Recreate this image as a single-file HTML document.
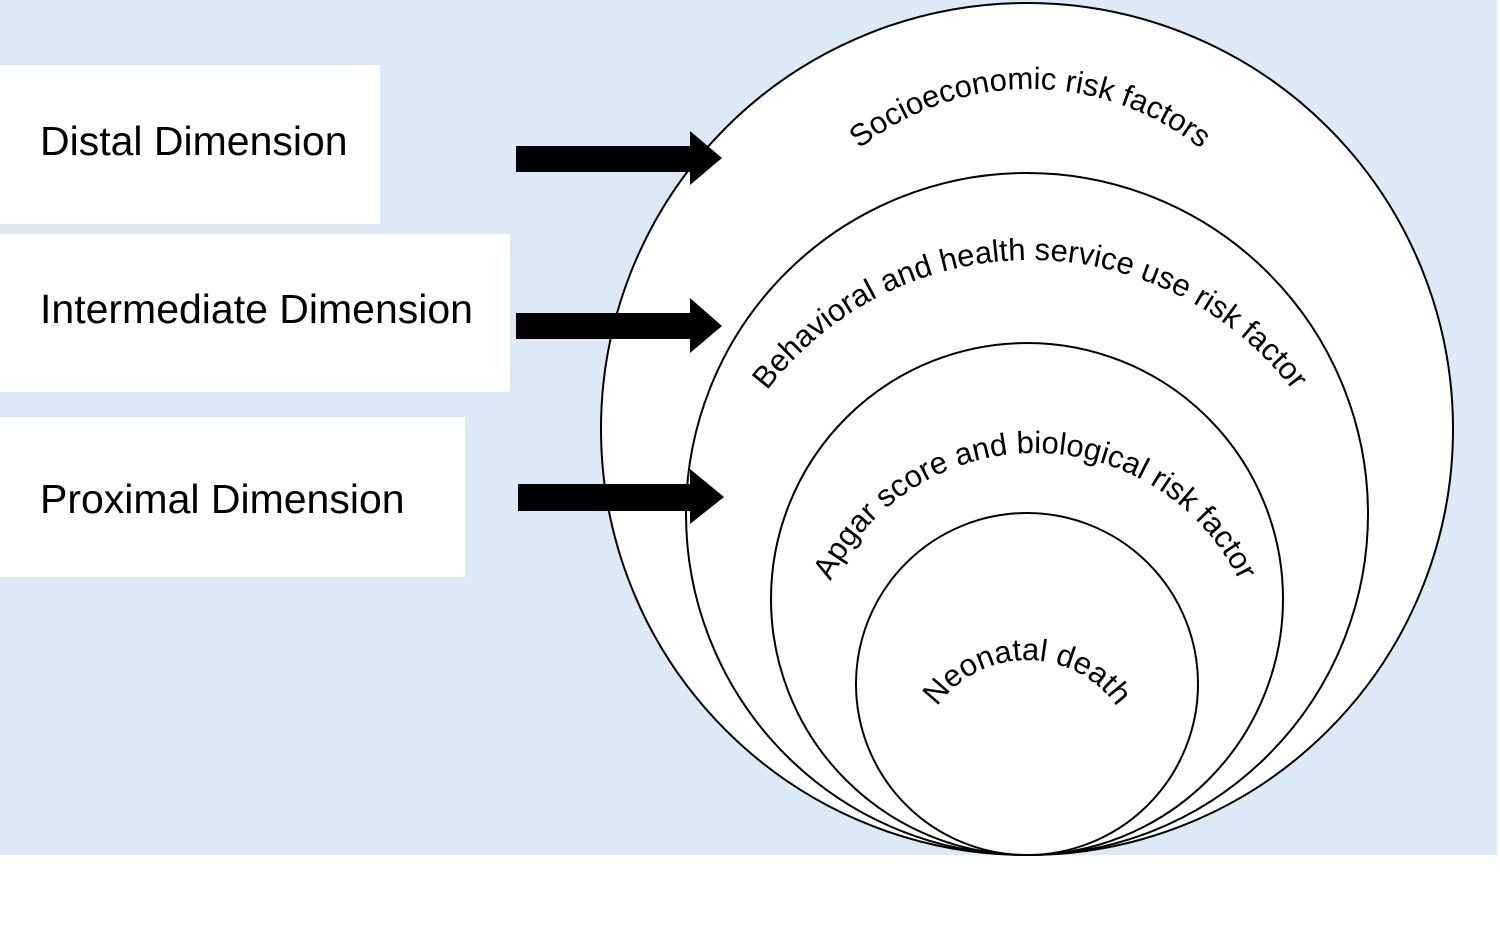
<!DOCTYPE html>
<html><head><meta charset="utf-8"><style>
html,body{margin:0;padding:0;background:#fff;}
body{width:1500px;height:937px;position:relative;overflow:hidden;font-family:"Liberation Sans",Arial,sans-serif;}
.bg{position:absolute;left:0;top:0;width:1497px;height:855px;background:#dbeaf6;}
.box{position:absolute;left:0;background:#fff;font-size:41px;color:#000;}
.box span{position:absolute;left:40px;}
svg{position:absolute;left:0;top:0;}
</style></head><body>
<div class="bg"></div>
<div class="box" style="top:65px;width:380px;height:159px;"><span style="top:53px">Distal Dimension</span></div>
<div class="box" style="top:234px;width:510px;height:158px;"><span style="top:52px">Intermediate Dimension</span></div>
<div class="box" style="top:417px;width:465px;height:160px;"><span style="top:59px">Proximal Dimension</span></div>
<svg width="1500" height="937" viewBox="0 0 1500 937">
<g fill="#fff" stroke="#000" stroke-width="2">
<circle cx="1027" cy="429" r="426"/>
<circle cx="1027" cy="514" r="341"/>
<circle cx="1027" cy="599" r="256"/>
<circle cx="1027" cy="684" r="171"/>
</g>
<g fill="#000">
<polygon points="516,146 690,146 690,131 722,158 690,185 690,172 516,172"/>
<polygon points="516,313 690,313 690,298 722,326 690,353 690,339 516,339"/>
<polygon points="518,484 690,484 690,469 724,497 690,524 690,511 518,511"/>
</g>
<defs>
<path id="p1" d="M 757,362 A 273,273 0 0 1 1303,362"/>
<path id="p2" d="M 700,590 A 330,330 0 0 1 1360,590"/>
<path id="p3" d="M 808,680 A 227,227 0 0 1 1262,680"/>
<path id="p4" d="M 917,770 A 110,110 0 0 1 1137,770"/>
</defs>
<g font-family="Liberation Sans, Arial, sans-serif" font-size="31" fill="#000">
<text><textPath href="#p1" startOffset="50%" text-anchor="middle">Socioeconomic risk factors</textPath></text>
<text><textPath href="#p2" startOffset="50%" text-anchor="middle">Behavioral and health service use risk factor</textPath></text>
<text><textPath href="#p3" startOffset="50%" text-anchor="middle">Apgar score and biological risk factor</textPath></text>
<text><textPath href="#p4" startOffset="50%" text-anchor="middle">Neonatal death</textPath></text>
</g>
</svg>
</body></html>
